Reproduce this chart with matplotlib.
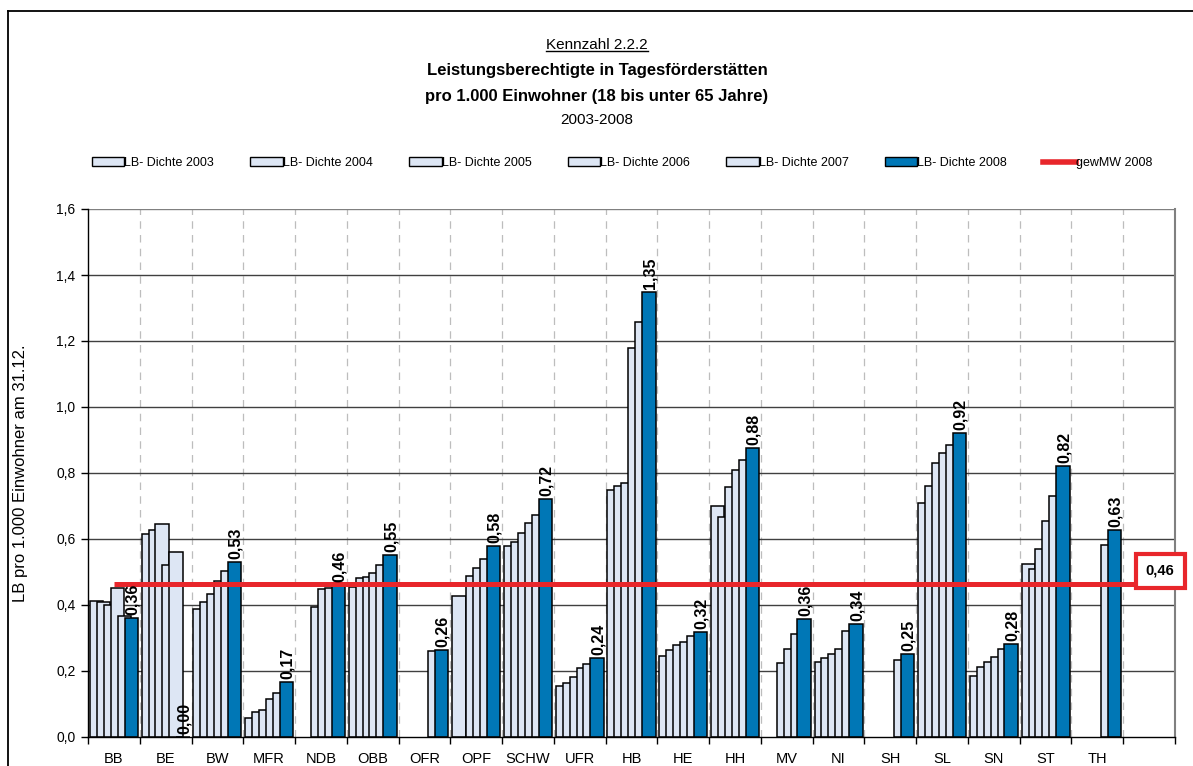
import numpy as np
import matplotlib
matplotlib.use("Agg")
import matplotlib.pyplot as plt
from matplotlib.lines import Line2D
from matplotlib.patches import Patch
from matplotlib.ticker import FixedLocator, NullFormatter

plt.rcParams['font.family'] = ['Liberation Sans', 'DejaVu Sans']

nan = np.nan
categories = ["BB", "BE", "BW", "MFR", "NDB", "OBB", "OFR", "OPF", "SCHW", "UFR",
              "HB", "HE", "HH", "MV", "NI", "SH", "SL", "SN", "ST", "TH", ""]
series_names = ["LB- Dichte 2003", "LB- Dichte 2004", "LB- Dichte 2005",
                "LB- Dichte 2006", "LB- Dichte 2007", "LB- Dichte 2008"]
d2003 = [0.412, 0.614, 0.389, 0.059, nan, 0.456, nan, 0.426, 0.579, 0.156,
         0.747, 0.246, 0.700, nan, 0.227, nan, 0.710, 0.184, 0.523, nan, nan]
d2004 = [0.409, 0.627, 0.409, 0.075, nan, 0.481, nan, nan, 0.591, 0.165,
         0.762, 0.263, 0.666, nan, 0.240, nan, 0.762, 0.213, 0.510, nan, nan]
d2005 = [0.401, 0.645, 0.433, 0.083, 0.394, 0.485, nan, 0.489, 0.619, 0.182,
         0.770, 0.280, 0.758, 0.225, 0.251, nan, 0.829, 0.228, 0.570, nan, nan]
d2006 = [0.452, 0.522, 0.474, 0.115, 0.447, 0.497, nan, 0.512, 0.648, 0.209,
         1.179, 0.289, 0.809, 0.267, 0.268, nan, 0.861, 0.243, 0.654, nan, nan]
d2007 = [0.367, 0.560, 0.503, 0.133, 0.452, 0.520, 0.261, 0.540, 0.672, 0.221,
         1.258, 0.305, 0.840, 0.313, 0.321, 0.233, 0.884, 0.266, 0.731, 0.581, nan]
d2008 = [0.362, 0.000, 0.529, 0.166, 0.462, 0.553, 0.263, 0.579, 0.722, 0.238,
         1.348, 0.317, 0.876, 0.357, 0.341, 0.251, 0.921, 0.281, 0.822, 0.628, nan]
gew_mw_2008 = [0.464] * len(categories)
mean_name = "gewMW 2008"
y_ticks = [0.0, 0.2, 0.4, 0.6, 0.8, 1.0, 1.2, 1.4, 1.6]

LIGHT = "#dde6f4"
BLUE = "#0077b6"
RED = "#e8262b"


def de(v, nd=2):
    return f"{v:.{nd}f}".replace(".", ",")


W, H = 1193, 766
fig = plt.figure(figsize=(W / 100, H / 100), dpi=100)
fig.patch.set_facecolor("white")

left, right, top, bottom = 88, 1175, 209, 737
ax = fig.add_axes([left / W, 1 - bottom / H, (right - left) / W, (bottom - top) / H])

x = np.arange(len(categories))
step = 0.134
width = 0.258
span = 5 * step + width
all_series = [d2003, d2004, d2005, d2006, d2007, d2008]
colors = [LIGHT] * 5 + [BLUE]

for j, vals in enumerate(all_series):
    vals = np.array(vals, dtype=float)
    centers = x - span / 2 + width / 2 + j * step
    ok = ~np.isnan(vals)
    ax.bar(centers[ok], vals[ok], width=width, color=colors[j],
           edgecolor="black", linewidth=1.1, zorder=3 + j)
    if j == 5:
        for cx, v in zip(centers[ok], vals[ok]):
            ax.annotate(de(v), (cx, v), xytext=(1, 3), textcoords="offset pixels",
                        rotation=90, ha="center", va="bottom",
                        fontsize=11.5, fontweight="bold", zorder=12)

# weighted mean line
ax.plot(x, gew_mw_2008, color=RED, linewidth=3.6, zorder=10, solid_capstyle="butt")
ax.annotate(de(gew_mw_2008[-1]), (x[-1], gew_mw_2008[-1]), xytext=(11, 13),
            textcoords="offset pixels", ha="center", va="center",
            fontsize=10.5, fontweight="bold", zorder=13,
            bbox=dict(boxstyle="square,pad=0.7", facecolor="white",
                      edgecolor=RED, linewidth=3))

ax.set_xlim(-0.5, len(categories) - 0.5)
ax.set_ylim(0, 1.6)

# horizontal grid
for yv in y_ticks[1:]:
    ax.axhline(yv, color="#808080" if yv >= 1.6 else "#404040",
               linewidth=1.0, zorder=1)
# vertical dashed separators
for b in np.arange(0.5, len(categories) - 1, 1.0):
    ax.axvline(b, color="#bdbdbd", linewidth=0.9, linestyle=(0, (6, 5)), zorder=0.5)

ax.set_yticks(y_ticks)
ax.set_yticklabels([de(v, 1) for v in y_ticks], fontsize=10)
ax.xaxis.set_major_locator(FixedLocator(np.arange(-0.5, len(categories), 1.0)))
ax.xaxis.set_major_formatter(NullFormatter())
ax.xaxis.set_minor_locator(FixedLocator(x))
ax.set_xticklabels(categories, minor=True, fontsize=10.5)
ax.tick_params(axis="x", which="major", direction="out", length=5, width=1, color="black")
ax.tick_params(axis="x", which="minor", length=0, pad=11)
ax.tick_params(axis="y", direction="out", length=5, width=1, pad=4)

for s in ["left", "bottom"]:
    ax.spines[s].set_color("black")
    ax.spines[s].set_linewidth(1.0)
    ax.spines[s].set_zorder(15)
ax.spines["top"].set_visible(False)
ax.spines["right"].set_color("#808080")
ax.spines["right"].set_linewidth(1.5)

ax.set_ylabel("LB pro 1.000 Einwohner am 31.12.", fontsize=12, labelpad=0)
ax.yaxis.set_label_coords(-60 / (right - left), 0.5)

# titles
fig.text(597 / W, 1 - 45 / H, "Kennzahl 2.2.2", ha="center", va="center", fontsize=11)
fig.text(597 / W, 1 - 71 / H, "Leistungsberechtigte in Tagesförderstätten",
         ha="center", va="center", fontsize=12, fontweight="bold")
fig.text(597 / W, 1 - 96 / H, "pro 1.000 Einwohner (18 bis unter 65 Jahre)",
         ha="center", va="center", fontsize=12, fontweight="bold")
fig.text(597 / W, 1 - 120 / H, "2003-2008", ha="center", va="center", fontsize=11)

# legend
handles = [Patch(facecolor=c, edgecolor="black", linewidth=1.0) for c in colors]
handles.append(Line2D([0], [0], color=RED, linewidth=4))
labels = series_names + [mean_name]
fig.legend(handles, labels, loc="center", bbox_to_anchor=(622 / W, 1 - 163 / H),
           ncol=7, frameon=False, fontsize=9, handlelength=2.6, handleheight=0.7,
           handletextpad=0.0, columnspacing=2.9)

# outer frame
fig.add_artist(Line2D([8 / W, 1.0], [1 - 11 / H, 1 - 11 / H], color="black",
                      linewidth=1.3, transform=fig.transFigure))
fig.add_artist(Line2D([8 / W, 8 / W], [0.0, 1 - 11 / H], color="black",
                      linewidth=1.3, transform=fig.transFigure))

# underline for the indicator number
fig.canvas.draw()
renderer = fig.canvas.get_renderer()
t0 = fig.texts[0]
bb = t0.get_window_extent(renderer)
uy = (bb.y0 + 1) / H
fig.add_artist(Line2D([bb.x0 / W, bb.x1 / W], [uy, uy], color="black",
                      linewidth=1.0, transform=fig.transFigure))

fig.savefig("out.png", dpi=100, facecolor="white")
